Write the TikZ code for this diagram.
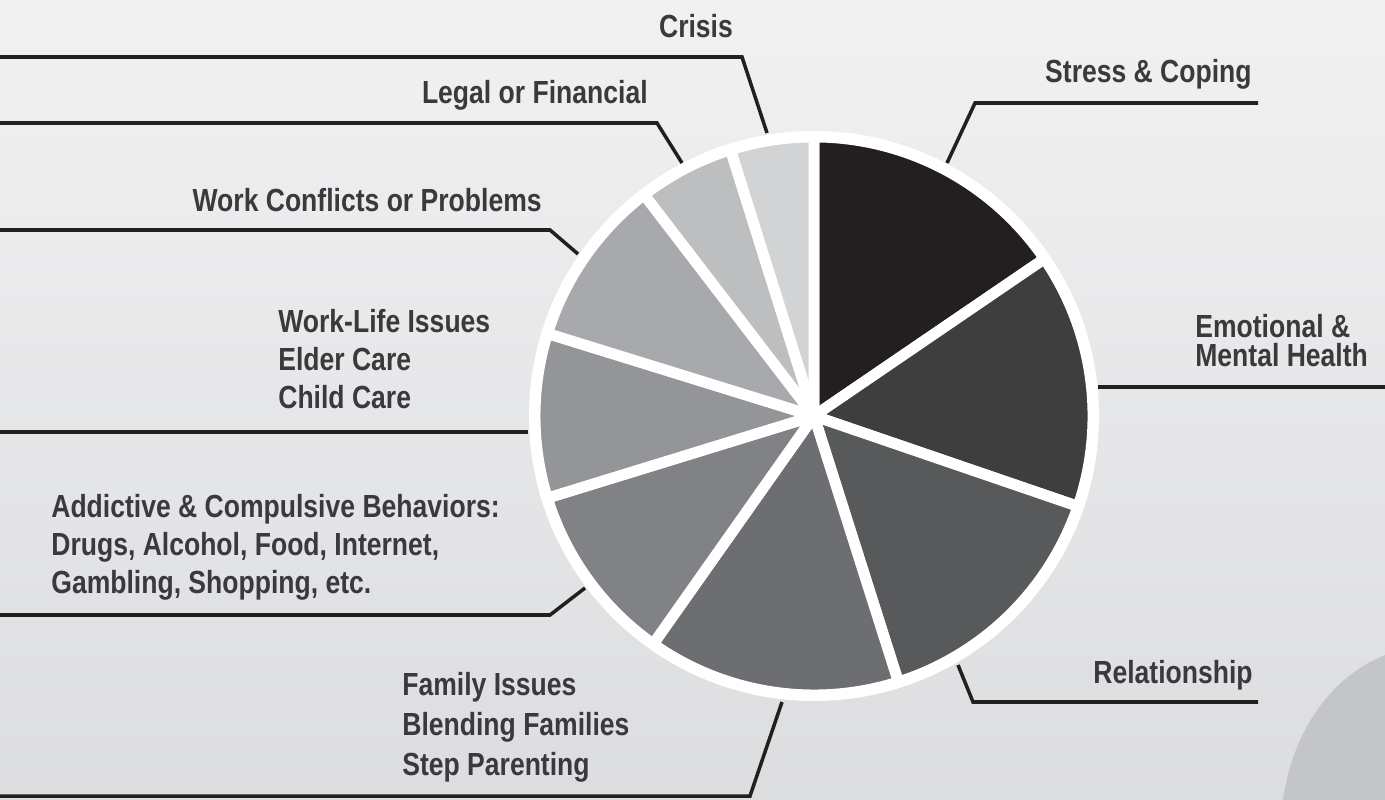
\documentclass[tikz,border=0pt]{standalone}
\usepackage{fontspec}
\setmainfont{Liberation Sans}[FakeStretch=0.83]
\usetikzlibrary{positioning}

\definecolor{bgtop}{HTML}{F1F1F2}
\definecolor{bgbottom}{HTML}{DCDDDF}
\definecolor{blobgray}{HTML}{C4C5C7}
\definecolor{labelgray}{HTML}{3A3A3C}
\definecolor{leadergray}{HTML}{231F20}
\definecolor{stresscol}{HTML}{231F20}
\definecolor{emotcol}{HTML}{3E3E3F}
\definecolor{relcol}{HTML}{58595B}
\definecolor{famcol}{HTML}{6D6E71}
\definecolor{addcol}{HTML}{808285}
\definecolor{wlcol}{HTML}{939598}
\definecolor{wccol}{HTML}{A7A9AC}
\definecolor{legcol}{HTML}{BCBEC0}
\definecolor{criscol}{HTML}{D1D3D4}

\begin{document}
\begin{tikzpicture}[x=0.02cm, y=-0.02cm,
    itemtext/.style={font=\fontsize{18.2}{21.6}\selectfont\bfseries, text=labelgray, inner sep=0pt},
    itemblock/.style={itemtext, font=\fontsize{18.2}{#1}\selectfont\bfseries, align=left},
    leader/.style={draw=leadergray, line width=2pt},
    slice/.style={draw=white, line width=6.2pt, line join=round}]
        \useasboundingbox (0,0) rectangle (1385,800);
        \shade [top color=bgtop, bottom color=bgbottom] (0,0) rectangle (1385,800);
        \fill [blobgray] (1283,800) .. controls (1292,735) and (1328,678) .. (1385,655) -- (1385,800) -- cycle;
        % pie
        \begin{scope}[shift={(814,416)}, x=0.02cm, y=0.02cm]
        \fill [white] (0,0) circle (285);
        \foreach \from/\to/\col in {34.3/90/stresscol, -18.9/34.3/emotcol, -72.4/-18.9/relcol,
            -125.2/-72.4/famcol, -162.9/-125.2/addcol, -197.2/-162.9/wlcol,
            127.5/162.8/wccol, 107.4/127.5/legcol, 90/107.4/criscol}
          \filldraw [slice, fill=\col] (0,0) -- (\from:279) arc (\from:\to:279) -- cycle;
        \end{scope}
        % labels
        \node [itemtext, anchor=base] (crisis) at (696,38) {Crisis};
        \node [itemtext, anchor=base east] (legal) at (648,104) {Legal or Financial};
        \node [itemtext, anchor=base east] (workconf) at (542,212) {Work Conflicts or Problems};
        \node [itemblock=21.6pt, anchor=north west] (worklife) at (278,309) {Work-Life Issues\\Elder Care\\Child Care};
        \node [itemblock=21.6pt, anchor=north west] (addict) at (51,494) {Addictive \& Compulsive Behaviors:\\Drugs, Alcohol, Food, Internet,\\Gambling, Shopping, etc.};
        \node [itemblock=22.7pt, anchor=north west] (family) at (402,672) {Family Issues\\Blending Families\\Step Parenting};
        \node [itemtext, anchor=base east] (stress) at (1252,83) {Stress \& Coping};
        \node [itemblock=16.5pt, anchor=north west] (emotional) at (1195,314) {Emotional \&\\Mental Health};
        \node [itemtext, anchor=base east] (relation) at (1253,683) {Relationship};
        % leader lines
        \coordinate (crisis-l) at (0,57);
        \coordinate (crisis-b) at (742,57);
        \coordinate (crisis-t) at (767,133);
        \draw [leader] (crisis-l) -- (crisis-b) -- (crisis-t);
        \coordinate (legal-l) at (0,123);
        \coordinate (legal-b) at (657,123);
        \coordinate (legal-t) at (682,163);
        \draw [leader] (legal-l) -- (legal-b) -- (legal-t);
        \coordinate (workconf-l) at (0,230);
        \coordinate (workconf-b) at (550,230);
        \coordinate (workconf-t) at (578,254);
        \draw [leader] (workconf-l) -- (workconf-b) -- (workconf-t);
        \coordinate (worklife-l) at (0,432);
        \coordinate (worklife-t) at (528,432);
        \draw [leader] (worklife-l) -- (worklife-t);
        \coordinate (addict-l) at (0,615);
        \coordinate (addict-b) at (550,615);
        \coordinate (addict-t) at (585,588);
        \draw [leader] (addict-l) -- (addict-b) -- (addict-t);
        \coordinate (family-l) at (0,796);
        \coordinate (family-b) at (750,796);
        \coordinate (family-t) at (782,702);
        \draw [leader] (family-l) -- (family-b) -- (family-t);
        \coordinate (stress-t) at (947,163);
        \coordinate (stress-b) at (975,103);
        \coordinate (stress-r) at (1258,103);
        \draw [leader] (stress-t) -- (stress-b) -- (stress-r);
        \coordinate (emotional-t) at (1098,387);
        \coordinate (emotional-r) at (1385,387);
        \draw [leader] (emotional-t) -- (emotional-r);
        \coordinate (relation-t) at (958,665);
        \coordinate (relation-b) at (973,702);
        \coordinate (relation-r) at (1258,702);
        \draw [leader] (relation-t) -- (relation-b) -- (relation-r);
\end{tikzpicture}
\end{document}
